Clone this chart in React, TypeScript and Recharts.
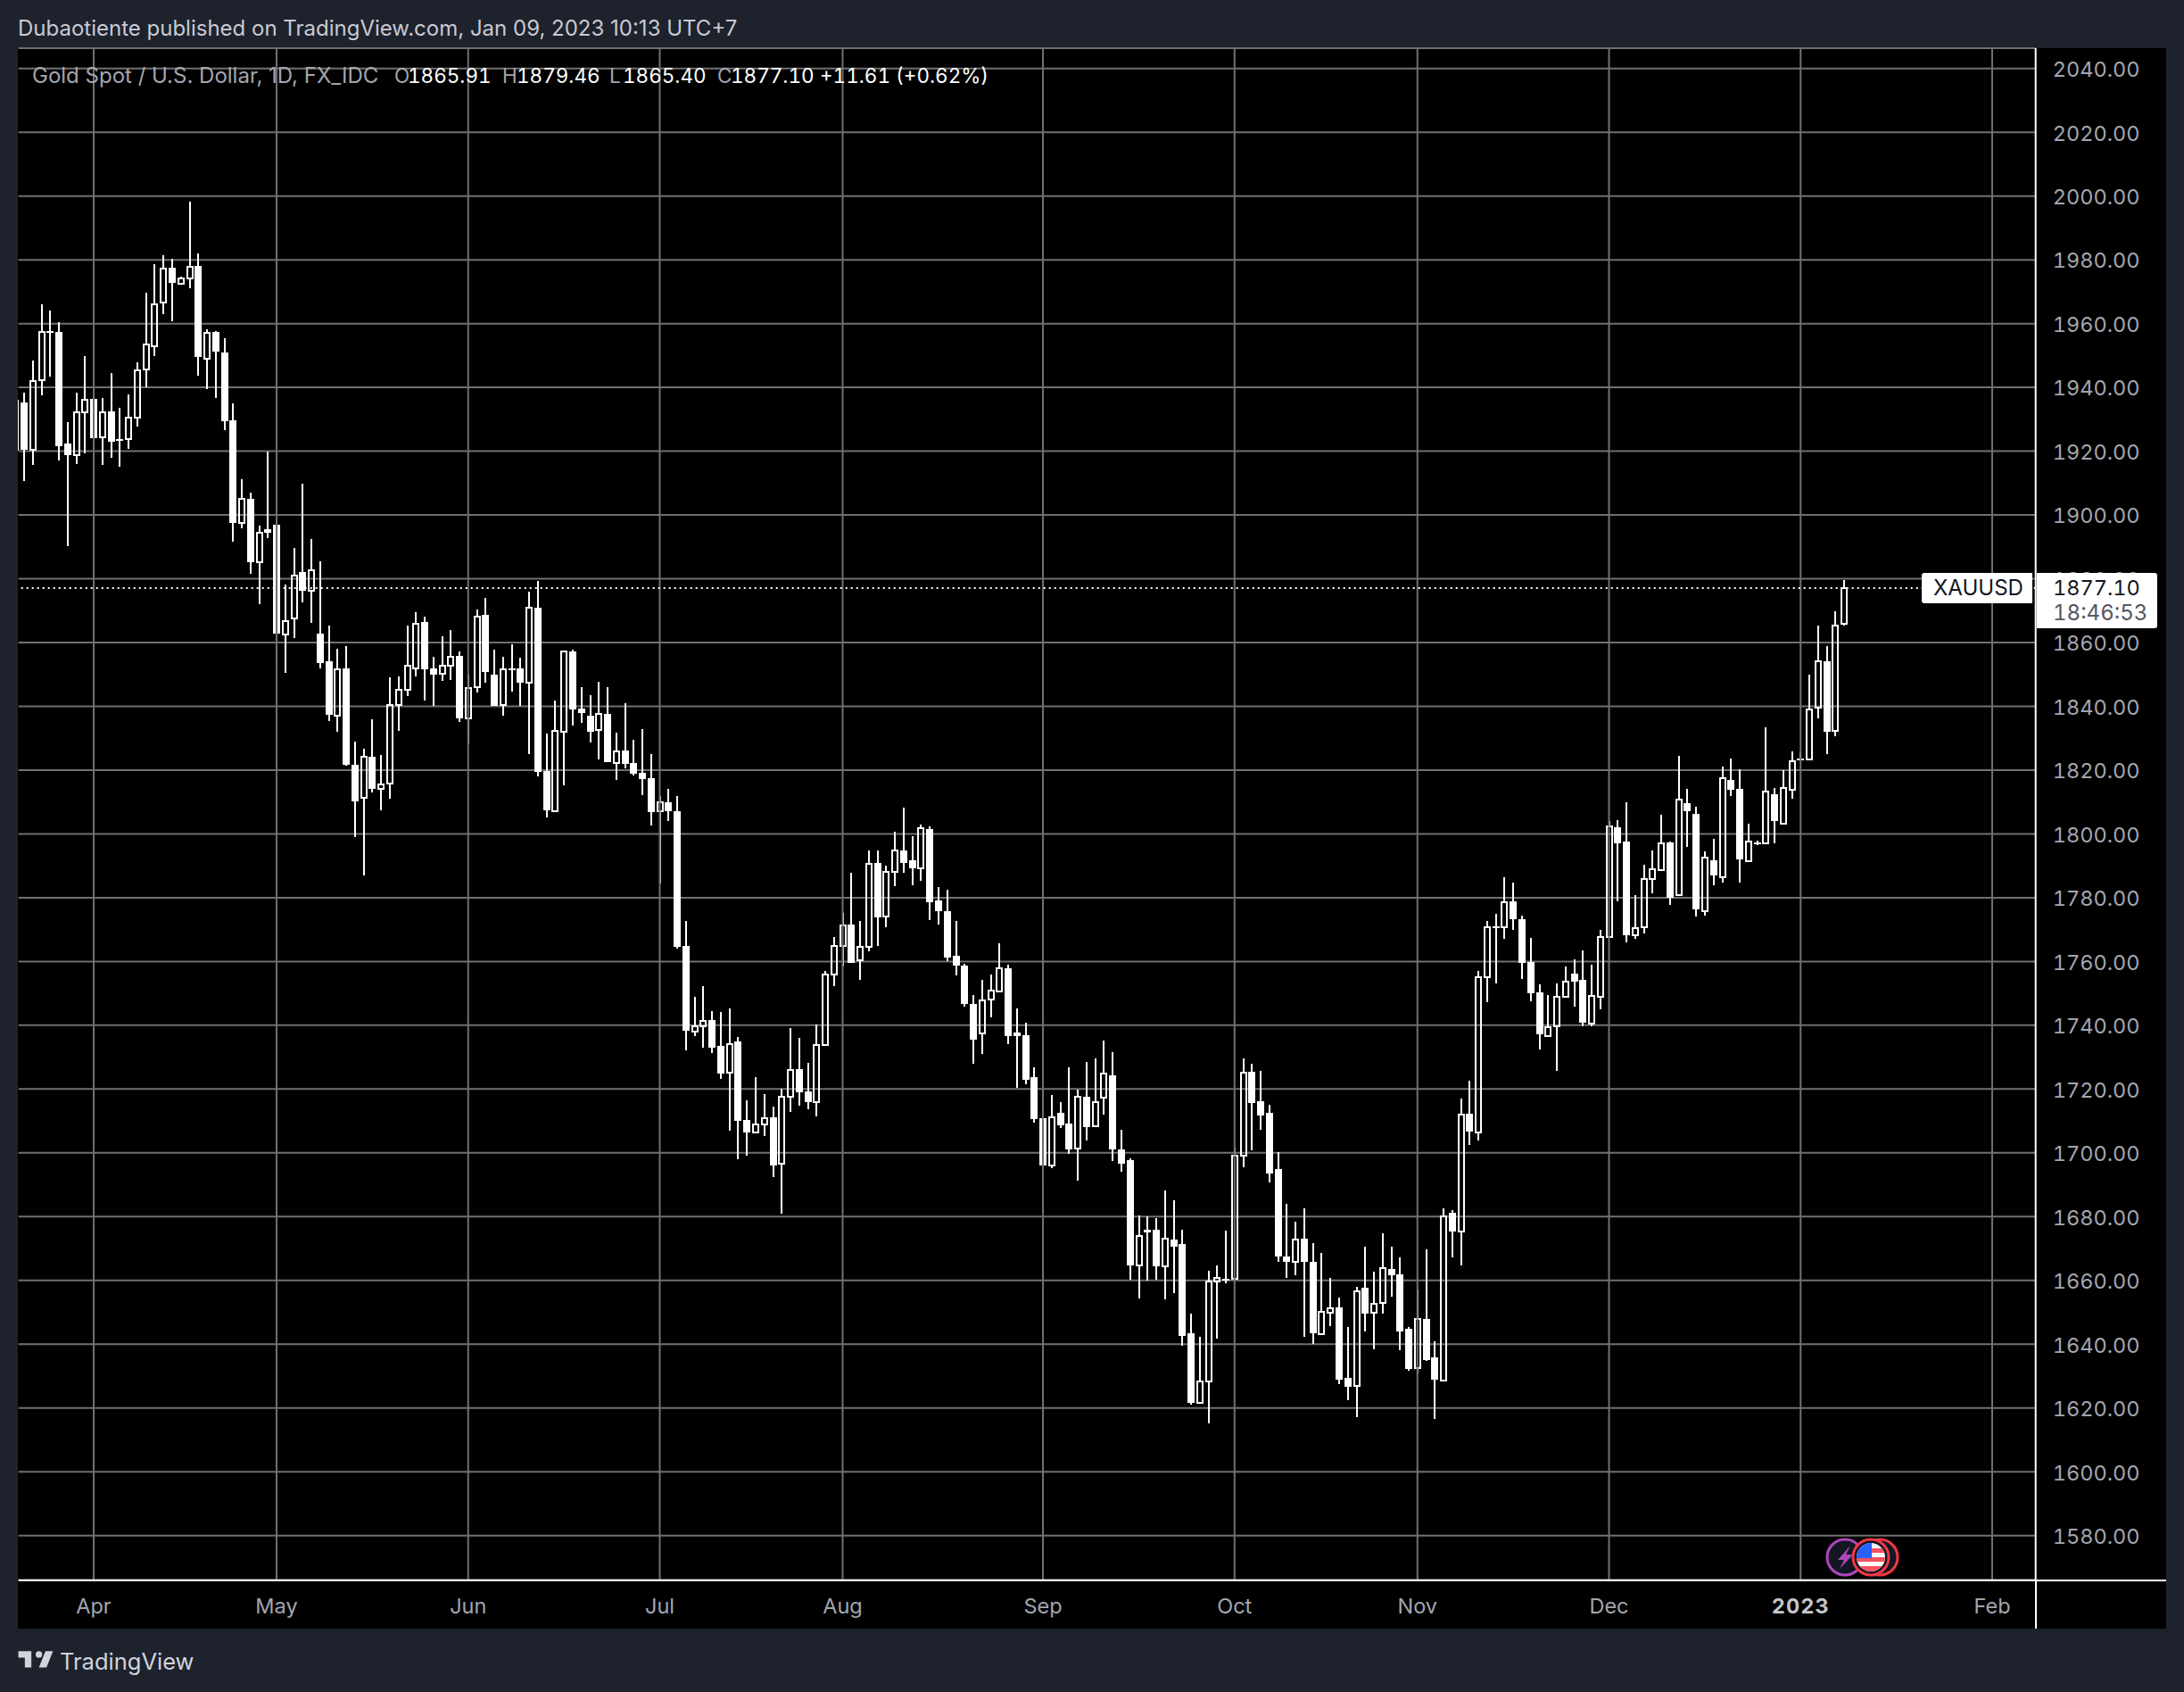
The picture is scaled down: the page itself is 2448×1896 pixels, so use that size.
import { Bar, CartesianGrid, ComposedChart, ReferenceLine, XAxis, YAxis } from "recharts";

// daily candles, XAUUSD
const opens = [
  1920.4, 1935.3, 1920.4, 1942.3, 1957.6, 1957.3, 1922.3, 1918.7, 1932.1, 1936.3,
  1924.5, 1932.4, 1923.8, 1923.7, 1930.6, 1945.5, 1953, 1966.5, 1977.5, 1972.4,
  1974.3, 1978, 1949.1, 1957.3, 1950.9, 1929.7, 1897.5, 1905, 1885.2, 1895.5,
  1896.8, 1862.6, 1867.5, 1882, 1876.2, 1862.8, 1854.2, 1837, 1851.9, 1821.7,
  1811.2, 1824.2, 1814.2, 1815.7, 1840.3, 1845.3, 1851.8, 1866.5, 1851.9, 1850.1,
  1852.7, 1855.8, 1836.3, 1846, 1868.6, 1850, 1840.3, 1852, 1851.9, 1847.5,
  1870.9, 1819.7, 1807, 1832.1, 1857.2, 1839.4, 1837.1, 1832.5, 1837.6, 1822.3,
  1826.1, 1822.2, 1819.1, 1817.4, 1807, 1809.9, 1807.1, 1764.9, 1738.1, 1739.8,
  1741.6, 1733.6, 1725, 1734.9, 1710.3, 1706.5, 1708.9, 1711.1, 1696.5, 1717.7,
  1726.3, 1719.3, 1716, 1733.7, 1755.8, 1765, 1771.5, 1760.5, 1764.7, 1790.8,
  1774, 1788.2, 1794.7, 1791.6, 1789.2, 1801.4, 1779, 1775.9, 1761.7, 1758.6,
  1746.6, 1737.4, 1748, 1750.6, 1758, 1737.6, 1737, 1723.6, 1711, 1695.9,
  1712.4, 1709.3, 1701.3, 1717.7, 1708.3, 1717.3, 1724.4, 1701.2, 1697.6, 1664.6,
  1675.8, 1675.8, 1664.5, 1672.9, 1671.3, 1643.3, 1621.5, 1628.3, 1659.7, 1660.6,
  1660.4, 1699.1, 1725.3, 1716.1, 1712.4, 1694.8, 1667.6, 1665.9, 1673, 1665.9,
  1643.2, 1649.9, 1651.4, 1629.5, 1626.8, 1657.6, 1649.9, 1653, 1663.7, 1662,
  1644.9, 1632.5, 1648, 1635.9, 1628.6, 1681.1, 1675.3, 1712.2, 1706.3, 1755.1,
  1770.9, 1770.8, 1778.8, 1773.2, 1759.7, 1750.2, 1736.6, 1739.7, 1749, 1756.3,
  1754.2, 1740.6, 1749, 1767.7, 1802.1, 1797.6, 1768.1, 1770.8, 1785.8, 1788.6,
  1797.4, 1780.8, 1809.5, 1806.4, 1775.7, 1791.8, 1786.4, 1817, 1814.2, 1791.5,
  1797.4, 1797.1, 1812.5, 1803.2, 1813.8, 1823.5, 1823.4, 1839.6, 1854.1, 1832.3,
  1865.91,
];
const highs = [
  1941, 1938.3, 1948.4, 1966, 1964, 1960.4, 1929, 1938.3, 1949.7, 1939.5,
  1936.8, 1944.4, 1933.6, 1937.7, 1948, 1969.6, 1978.6, 1981.4, 1980.3, 1974.7,
  1998.2, 1982, 1958.2, 1957.6, 1955.4, 1935, 1911.2, 1907, 1896.6, 1919.9,
  1899.6, 1878.2, 1889.7, 1909.8, 1892.5, 1885.4, 1865.3, 1858, 1858.9, 1829,
  1826.7, 1836, 1824.8, 1849.1, 1849.4, 1865.3, 1869.5, 1868.1, 1855.6, 1861.9,
  1864, 1857.2, 1850, 1870.4, 1874, 1857.8, 1855.6, 1859.5, 1855.3, 1876,
  1879.3, 1831.5, 1841.8, 1857.4, 1857.7, 1846.1, 1843.4, 1847.7, 1846.1, 1831.7,
  1840.9, 1829.6, 1832.9, 1825.1, 1811.9, 1814.1, 1811.9, 1772.7, 1748.9, 1752.3,
  1744.4, 1744.1, 1745.3, 1736.4, 1716.4, 1723.8, 1718.4, 1714.6, 1720.1, 1739.1,
  1736.1, 1728.2, 1740.3, 1757, 1767.6, 1775.2, 1787.9, 1772.7, 1794.9, 1794.9,
  1790.1, 1800.6, 1808.1, 1799.4, 1802.8, 1802.5, 1783.2, 1782.4, 1772.6, 1759.4,
  1749.4, 1754.1, 1755.8, 1765.6, 1758.9, 1745.4, 1740.7, 1726.7, 1711.6, 1718,
  1715.8, 1726.7, 1719.7, 1728.4, 1729.5, 1735.1, 1731.7, 1707.1, 1698.2, 1680.5,
  1680, 1679.4, 1688.1, 1685, 1676, 1649.7, 1642.4, 1662.9, 1664.8, 1675.5,
  1701.5, 1729.5, 1727.9, 1725.6, 1715, 1700.1, 1683.9, 1678.3, 1682.5, 1671.8,
  1668.5, 1660.9, 1654.5, 1645.5, 1658.1, 1670.7, 1662.6, 1674.9, 1670.7, 1667.1,
  1645.5, 1657, 1669.6, 1641, 1682.5, 1681.9, 1716.9, 1722.5, 1757, 1772.6,
  1774.8, 1786.3, 1784.8, 1774.5, 1767.5, 1752.7, 1749.4, 1753.1, 1758.3, 1760.8,
  1763.6, 1758.9, 1769.8, 1804.1, 1804.4, 1810, 1780.9, 1790.4, 1794.9, 1806.1,
  1797.7, 1824.6, 1814.2, 1808.6, 1794.4, 1798.5, 1821.2, 1823.7, 1820.4, 1803.3,
  1798, 1833.3, 1814.5, 1820.1, 1826, 1825.7, 1850, 1865.2, 1859, 1869.9,
  1879.46,
];
const lows = [
  1911, 1910.7, 1915.8, 1937.6, 1943.5, 1917.2, 1890.3, 1916, 1919.4, 1918,
  1915.8, 1918, 1915.2, 1920.8, 1927.8, 1940.1, 1949.9, 1963.1, 1960.7, 1972.4,
  1971.2, 1943.7, 1939.5, 1936.8, 1926.6, 1891.7, 1895.9, 1881.6, 1872.1, 1892.8,
  1854.7, 1850.5, 1861.4, 1872.6, 1866.2, 1851.9, 1835.5, 1832, 1821.3, 1799.1,
  1787.1, 1813.1, 1807.5, 1810.9, 1832.3, 1843.3, 1849.4, 1841.8, 1840.2, 1848,
  1848.3, 1835.1, 1828.5, 1844.2, 1847.4, 1840, 1837.1, 1844.6, 1840.2, 1825.1,
  1818.1, 1805.2, 1807, 1815.3, 1834.1, 1834.9, 1828.7, 1823.4, 1822.5, 1816.9,
  1820.6, 1818.4, 1812.1, 1802.6, 1784.4, 1804.1, 1764.1, 1732.1, 1736.6, 1732.9,
  1731.3, 1723.2, 1707, 1697.9, 1699.1, 1706.1, 1705.3, 1692.4, 1680.9, 1712.9,
  1714.8, 1713.6, 1711.4, 1733.7, 1752.3, 1758.5, 1759.5, 1754.3, 1763.2, 1764.9,
  1770.8, 1783.5, 1787.7, 1783.8, 1785.2, 1773.1, 1771.7, 1760, 1755.5, 1745.7,
  1727.8, 1730.9, 1742.6, 1750.2, 1734.2, 1720.5, 1721.4, 1709.6, 1688.9, 1695.1,
  1707.9, 1699.8, 1691.4, 1704, 1708.3, 1712.1, 1697.3, 1694, 1660.3, 1654.3,
  1659.9, 1660.1, 1654, 1655.9, 1639.6, 1621.1, 1621.5, 1615.1, 1641.7, 1659.2,
  1659.8, 1695.4, 1700.7, 1707.1, 1690.6, 1665.7, 1660.9, 1661.5, 1642.4, 1640.2,
  1643.2, 1645.8, 1627.6, 1622.5, 1617.2, 1644.1, 1638.5, 1649.7, 1655, 1638.2,
  1631.8, 1630.9, 1634.8, 1616.6, 1628.6, 1667.1, 1664.8, 1702.4, 1704, 1747.3,
  1753.1, 1767, 1770, 1754.4, 1747.4, 1732.3, 1736.6, 1725.7, 1749, 1745.8,
  1739.6, 1739.6, 1745, 1767.7, 1778.8, 1765.9, 1767, 1768.9, 1781.5, 1788.5,
  1777.6, 1780.8, 1795.8, 1774, 1774.5, 1784, 1784.8, 1812, 1784.8, 1791.5,
  1796.6, 1797, 1797.1, 1803.2, 1811.1, 1823.2, 1823.4, 1836.3, 1825.1, 1830.7,
  1865.4,
];
const closes = [
  1935.8, 1920.4, 1941.9, 1957.3, 1957.2, 1921.5, 1918.7, 1932.3, 1936.2, 1924.2,
  1932.3, 1923, 1923.6, 1930.6, 1945.4, 1953.6, 1966.1, 1977.3, 1972.9, 1974.2,
  1977.9, 1949.5, 1957.2, 1951.3, 1929.4, 1897.5, 1905, 1885.2, 1894.3, 1894.5,
  1862.8, 1866.8, 1881.1, 1876.3, 1882.8, 1853.7, 1837.4, 1851.5, 1821.7, 1810.3,
  1824.1, 1814.1, 1815.6, 1840.5, 1845.3, 1852.6, 1866, 1851.6, 1850, 1852.6,
  1855.6, 1836.2, 1845.6, 1868.2, 1850.8, 1840.2, 1851.7, 1851.7, 1847.4, 1870.9,
  1819.5, 1807.4, 1832.4, 1857.1, 1839, 1838, 1832.1, 1837.5, 1822.6, 1826,
  1821.9, 1818.9, 1817.2, 1806.9, 1809.8, 1807.1, 1764.6, 1738.3, 1739.8, 1741.5,
  1732.9, 1724.9, 1734.2, 1710.1, 1706.4, 1709, 1711, 1696.1, 1717.7, 1726,
  1719, 1716, 1733.7, 1756, 1765, 1771.2, 1759.6, 1764.7, 1790.5, 1773.9,
  1788, 1794.9, 1791, 1789.1, 1801.9, 1778.7, 1775.7, 1761.1, 1758.6, 1746.8,
  1735.6, 1747.9, 1750.9, 1757.8, 1736.5, 1736.5, 1723, 1710.7, 1695.9, 1711.1,
  1708.5, 1701.2, 1717.5, 1708.2, 1716, 1724.8, 1701.2, 1696.5, 1664.6, 1674,
  1675, 1664.3, 1673, 1670.7, 1642.7, 1621.7, 1628.3, 1659.7, 1660.7, 1660.4,
  1699.1, 1725.1, 1715.5, 1711.6, 1693.4, 1667.6, 1665.7, 1672.9, 1665.7, 1643.5,
  1650.1, 1651.2, 1629, 1626.7, 1656.6, 1649.7, 1652.6, 1663.8, 1661.7, 1644.1,
  1632.3, 1647.8, 1634.9, 1628.9, 1680, 1675.2, 1712.1, 1706.6, 1755.1, 1770.8,
  1770.7, 1778.7, 1773.2, 1759.5, 1749.9, 1737.3, 1739.5, 1748.9, 1753.7, 1753.8,
  1740.7, 1749.3, 1767.7, 1802.4, 1797, 1768.1, 1770.4, 1785.8, 1788.8, 1797.1,
  1780.1, 1810.8, 1807, 1776.2, 1792.5, 1787.1, 1817.4, 1813.9, 1792.1, 1797.6,
  1796.8, 1813.3, 1803.9, 1814.4, 1822.8, 1823.3, 1839, 1854.1, 1832.1, 1865.3,
  1877.1,
];

const monthLabels = ["Apr", "May", "Jun", "Jul", "Aug", "Sep", "Oct", "Nov", "Dec", "2023", "Feb"];
const monthBars = [9, 30, 52, 74, 95, 118, 140, 161, 183, 205, 227];
const priceTicks = [
  1580, 1600, 1620, 1640, 1660, 1680, 1700, 1720, 1740, 1760, 1780, 1800, 1820, 1840, 1860, 1880, 1900, 1920,
  1940, 1960, 1980, 2000, 2020, 2040,
];
const lastPrice = 1877.1;
const barSlots = 233; // candles plus the empty space on the right

const data = Array.from({ length: barSlots }, (_, i) => ({
  bar: i,
  open: opens[i],
  high: highs[i],
  low: lows[i],
  close: closes[i],
  range: i < opens.length ? [lows[i], highs[i]] : null,
}));

const FONT = "Inter, 'Noto Sans', sans-serif";
const BG = "#1e222d";
const GRID = "#707070";
const AXIS_TEXT = "#a3a6af";

function Candle(props: any) {
  const { x, y, width, height, payload } = props;
  if (!payload || payload.open == null || !height) return null;
  const { open, high, low, close } = payload;
  const perUnit = height / (high - low);
  const cx = Math.round(x + width / 2);
  const wickTop = Math.round(y);
  const wickBottom = Math.round(y + height);
  const top = Math.round(y + (high - Math.max(open, close)) * perUnit);
  const bottom = Math.max(Math.round(y + (high - Math.min(open, close)) * perUnit), top + 2);
  const up = close >= open;
  return (
    <g shapeRendering="crispEdges">
      <line x1={cx} x2={cx} y1={wickTop} y2={top} stroke="#fff" strokeWidth={2} />
      <line x1={cx} x2={cx} y1={bottom} y2={wickBottom} stroke="#fff" strokeWidth={2} />
      {up ? (
        <rect x={cx - 3} y={top} width={6} height={bottom - top} fill="none" stroke="#fff" strokeWidth={2} />
      ) : (
        <rect x={cx - 4} y={top} width={8} height={bottom - top} fill="#fff" />
      )}
    </g>
  );
}

function MonthTick(props: any) {
  const { x, y, payload } = props;
  const label = monthLabels[monthBars.indexOf(payload.value)];
  const year = label === "2023";
  return (
    <text
      x={x}
      y={y}
      dy={29}
      textAnchor="middle"
      fontFamily={FONT}
      fontSize={23.5}
      fontWeight={year ? 700 : 400}
      letterSpacing={year ? 1 : 0}
      fill={year ? "#c4c6cc" : AXIS_TEXT}
      style={{ fontVariantNumeric: "tabular-nums" }}
    >
      {label}
    </text>
  );
}

function Label(props: any) {
  const { left, top, color, size = 24, tabular = true, children } = props;
  return (
    <div
      style={{
        position: "absolute",
        left,
        top,
        color,
        fontSize: size,
        lineHeight: "28px",
        fontFamily: FONT,
        fontVariantNumeric: tabular ? "tabular-nums" : "normal",
        whiteSpace: "nowrap",
      }}
    >
      {children}
    </div>
  );
}

function Badges() {
  return (
    <svg style={{ position: "absolute", left: 2040, top: 1715 }} width={100} height={60}>
      <defs>
        <clipPath id="flag">
          <circle cx={57} cy={30} r={16} />
        </clipPath>
      </defs>
      <circle cx={28} cy={30} r={20} fill="#131722" stroke="#ab47bc" strokeWidth={3} />
      <path d="M34 17 L20 33 L27 33 L22 43 L37 27 L29 27 Z" fill="#ab47bc" />
      <circle cx={67} cy={30} r={20} fill="#131722" stroke="#f23645" strokeWidth={3} />
      <circle cx={57} cy={30} r={20} fill="#131722" stroke="#f23645" strokeWidth={3} />
      <g clipPath="url(#flag)">
        <rect x={41} y={14} width={32} height={32} fill="#f7f7f7" />
        <rect x={41} y={20} width={32} height={5} fill="#f7525f" />
        <rect x={41} y={30} width={32} height={5} fill="#f7525f" />
        <rect x={41} y={40} width={32} height={6} fill="#f7525f" />
        <rect x={41} y={14} width={17} height={17} fill="#2962ff" />
      </g>
    </svg>
  );
}

export default function App() {
  return (
    <div style={{ position: "absolute", left: 0, top: 0, width: 2448, height: 1896, background: BG, overflow: "hidden" }}>
      <div style={{ position: "absolute", left: 20, top: 54, width: 2408, height: 1771, background: "#000" }} />
      <div style={{ position: "absolute", left: 0, top: 0 }}>
        <ComposedChart
          width={2448}
          height={1896}
          data={data}
          barCategoryGap={0}
          margin={{ top: 54, right: 20, bottom: 71, left: 20.7 }}
        >
          <CartesianGrid vertical={false} stroke={GRID} strokeWidth={2} />
          <XAxis
            dataKey="bar"
            type="category"
            ticks={monthBars}
            interval={0}
            height={54.3}
            padding={{ left: -8.43, right: -5 }}
            tick={<MonthTick />}
            tickLine={false}
            axisLine={{ stroke: "#fff", strokeWidth: 2 }}
          />
          <YAxis
            orientation="right"
            type="number"
            width={146.3}
            domain={[1566, 2046.36]}
            ticks={priceTicks}
            interval={0}
            tickFormatter={(v: number) => v.toFixed(2)}
            tick={{ fill: AXIS_TEXT, fontSize: 23.5, fontFamily: FONT, dy: 1, style: { fontVariantNumeric: "tabular-nums" } }}
            tickLine={false}
            tickMargin={13}
            axisLine={{ stroke: "#fff", strokeWidth: 2 }}
          />
          {monthBars.map((b) => (
            <ReferenceLine key={b} x={b} stroke={GRID} strokeWidth={2} />
          ))}
          <Bar dataKey="range" shape={<Candle />} isAnimationActive={false} />
          <ReferenceLine y={lastPrice} stroke="#fff" strokeWidth={2} strokeDasharray="2 4" />
        </ComposedChart>
      </div>

      {/* hides the part of the first candle that falls outside the pane */}
      <div style={{ position: "absolute", left: 0, top: 54, width: 20, height: 1771, background: BG }} />
      <div style={{ position: "absolute", left: 2281, top: 1770, width: 2, height: 55, background: "#fff" }} />
      <div style={{ position: "absolute", left: 2282, top: 1770, width: 146, height: 2, background: "#fff" }} />

      <Label left={20} top={18} color="#c8cad3" tabular={false}>
        Dubaotiente published on TradingView.com, Jan 09, 2023 10:13 UTC+7
      </Label>
      <Label left={36} top={71} color={AXIS_TEXT} tabular={false}>Gold Spot / U.S. Dollar, 1D, FX_IDC</Label>
      <Label left={442} top={71} color={AXIS_TEXT} size={22.5}>O</Label>
      <Label left={457} top={71} color="#fff" size={22.5}>1865.91</Label>
      <Label left={563} top={71} color={AXIS_TEXT} size={22.5}>H</Label>
      <Label left={579} top={71} color="#fff" size={22.5}>1879.46</Label>
      <Label left={683} top={71} color={AXIS_TEXT} size={22.5}>L</Label>
      <Label left={698} top={71} color="#fff" size={22.5}>1865.40</Label>
      <Label left={804} top={71} color={AXIS_TEXT} size={22.5}>C</Label>
      <Label left={819} top={71} color="#fff" size={22.5}>1877.10</Label>
      <Label left={919} top={71} color="#fff" size={22.5}>+11.61 (+0.62%)</Label>

      <div style={{ position: "absolute", left: 2154, top: 642, width: 124, height: 34, background: "#fff", borderRadius: "3px 0 0 3px" }} />
      <Label left={2167} top={645} color="#131722">XAUUSD</Label>
      <div style={{ position: "absolute", left: 2283, top: 642, width: 135, height: 62, background: "#fff", borderRadius: "0 3px 3px 0" }} />
      <Label left={2301} top={645} color="#131722" size={23.5}>1877.10</Label>
      <Label left={2301} top={673} color="#555862">18:46:53</Label>

      <Badges />

      <svg style={{ position: "absolute", left: 18, top: 1843 }} width={44} height={34} viewBox="0 0 36 28">
        <path
          d="M14 6H2v6h6v9h6V6zm14 15h-7l6-15h7l-6 15zm-7-9a3 3 0 1 0 0-6 3 3 0 0 0 0 6z"
          fill="#d1d4dc"
        />
      </svg>
      <Label left={67} top={1848} color="#d1d4dc" size={25.5} tabular={false}>TradingView</Label>
    </div>
  );
}
